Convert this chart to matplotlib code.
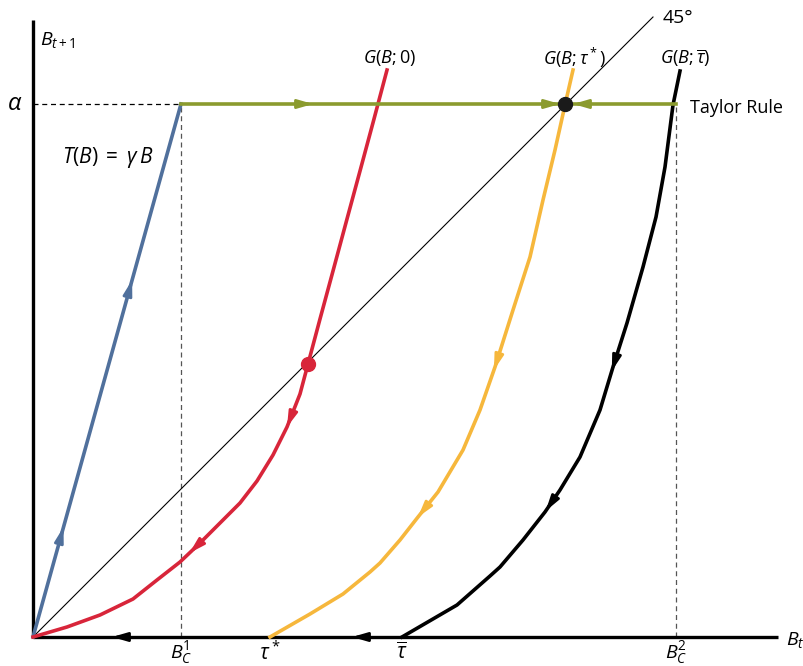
import numpy as np
import matplotlib
matplotlib.use("Agg")
import matplotlib.pyplot as plt
from matplotlib.patches import FancyArrowPatch

plt.rcParams['mathtext.fontset'] = 'custom'
plt.rcParams['mathtext.rm'] = 'Open Sans'
plt.rcParams['mathtext.it'] = 'Open Sans:italic'
plt.rcParams['font.family'] = ['Open Sans', 'DejaVu Sans']

# curve points (B_t, B_t+1)
alpha = 533
bc1 = 148
bc2 = 643
tau_star = 237
tau_bar = 369

red_x = [0, 34, 67, 100, 124, 147, 167, 187, 207, 224, 240, 254, 267, 275,
         287, 300, 314, 327, 341, 354]
red_y = [0, 10, 22, 38, 57, 75, 94, 114, 134, 156, 182, 210, 243, 273,
         318, 366, 418, 466, 518, 567]

orange_x = [237, 277, 310, 337, 347, 367, 385, 405, 430, 447, 462, 480, 497,
            510, 522, 532, 540]
orange_y = [0, 23, 43, 65, 74, 97, 120, 145, 187, 227, 270, 327, 380,
            437, 487, 532, 567]

black_x = [369, 424, 457, 467, 490, 512, 527, 547, 567, 580, 594, 610, 623,
           632, 640, 647]
black_y = [0, 32, 61, 70, 97, 125, 147, 180, 227, 270, 314, 370, 420,
           470, 532, 566]

blue_x = [0, bc1]
blue_y = [0, alpha]

diag_end = 620
red_eq = (275, 273)
taylor_eq = (532, alpha)

# where the direction arrows sit (height of the arrow tip)
blue_arrows = [110, 357]
red_arrows = [210, 84]
orange_arrows = [267, 120]
black_arrows = [266, 126]
green_right = [280, 527]
green_left = [540]
axis_arrows = [79, 319]

# colours
BLUE = '#50709c'
RED = '#d8253a'
ORANGE = '#f6b73c'
GREEN = '#8b9b2e'

fig = plt.figure(figsize=(8.04, 6.66), dpi=100)
ax = fig.add_axes([0, 0, 1, 1])
ax.set_xlim(-33, 771)
ax.set_ylim(-29, 637)
ax.axis('off')


def arrow(x0, y0, x1, y1, color, lw=2.0):
    ax.add_patch(FancyArrowPatch((x0, y0), (x1, y1),
                                 arrowstyle='-|>,head_length=9,head_width=2.6',
                                 color=color, lw=lw, shrinkA=0, shrinkB=0,
                                 mutation_scale=1, zorder=5))


def curve_arrow(xs, ys, ytip, color, down=True):
    # arrow tip placed on the curve at height ytip, pointing along it
    xs = np.asarray(xs, float)
    ys = np.asarray(ys, float)
    seg = np.hypot(np.diff(xs), np.diff(ys))
    s = np.concatenate([[0], np.cumsum(seg)])
    t = np.interp(ytip, ys, s)
    d = 12 if down else -12
    arrow(np.interp(t + d, s, xs), np.interp(t + d, s, ys),
          np.interp(t, s, xs), np.interp(t, s, ys), color)


# axes
ax.plot([0, 745], [0, 0], color='black', lw=2.4, solid_capstyle='butt', zorder=3)
ax.plot([0, 0], [0, 617], color='black', lw=2.4, solid_capstyle='butt', zorder=3)

# dashed guides
ax.plot([0, bc1], [alpha, alpha], color='black', lw=0.9, ls=(0, (4, 3)))
ax.plot([bc1, bc1], [0, alpha], color='#555555', lw=0.9, ls=(0, (4, 3)))
ax.plot([bc2, bc2], [0, alpha], color='#555555', lw=0.9, ls=(0, (4, 3)))

# 45 degree line
ax.plot([0, diag_end], [0, diag_end], color='black', lw=0.8)

# curves
kw = dict(lw=2.6, zorder=4, solid_joinstyle='round')
ax.plot(blue_x, blue_y, color=BLUE, **kw)
ax.plot(red_x, red_y, color=RED, **kw)
ax.plot(orange_x, orange_y, color=ORANGE, **kw)
ax.plot(black_x, black_y, color='black', **kw)
ax.plot([bc1, bc2], [alpha, alpha], color=GREEN, **kw)

# direction arrows
for yt in blue_arrows:
    curve_arrow(blue_x, blue_y, yt, BLUE, down=False)
for yt in red_arrows:
    curve_arrow(red_x, red_y, yt, RED)
for yt in orange_arrows:
    curve_arrow(orange_x, orange_y, yt, ORANGE)
for yt in black_arrows:
    curve_arrow(black_x, black_y, yt, 'black')
for xt in green_right:
    arrow(xt - 14, alpha, xt, alpha, GREEN)
for xt in green_left:
    arrow(xt + 14, alpha, xt, alpha, GREEN)
for xt in axis_arrows:
    arrow(xt + 14, 0, xt, 0, 'black')

# equilibrium points
ax.plot(*red_eq, 'o', color=RED, ms=10, zorder=6)
ax.plot(*taylor_eq, 'o', color='#1a1a1a', ms=10, zorder=6)

# labels
ax.text(7, 597, r'$B_{t+1}$', fontsize=14, ha='left', va='center')
ax.text(-18, 533, r'$\alpha$', fontsize=17, ha='center', va='center')
ax.text(75, 479, r'$T(B)\;=\;\gamma\, B$', fontsize=15, ha='center', va='center')
ax.text(357, 579, r'$G(B;0)$', fontsize=13, ha='center', va='center')
ax.text(542, 579, r'$G(B;\tau^*)$', fontsize=13, ha='center', va='center')
ax.text(652, 579, r'$G(B;\overline{\tau})$', fontsize=13, ha='center', va='center')
ax.text(657, 529, 'Taylor Rule', fontsize=13, ha='left', va='center')
ax.text(645, 619, '45°', fontsize=14, ha='center', va='center')
ax.text(bc1, -16, r'$B_C^1$', fontsize=14, ha='center', va='center')
ax.text(tau_star, -16, r'$\tau^*$', fontsize=15, ha='center', va='center')
ax.text(tau_bar, -16, r'$\overline{\tau}$', fontsize=15, ha='center', va='center')
ax.text(bc2, -16, r'$B_C^2$', fontsize=14, ha='center', va='center')
ax.text(762, -3, r'$B_t$', fontsize=14, ha='center', va='center')

fig.savefig('out.png', dpi=100)
